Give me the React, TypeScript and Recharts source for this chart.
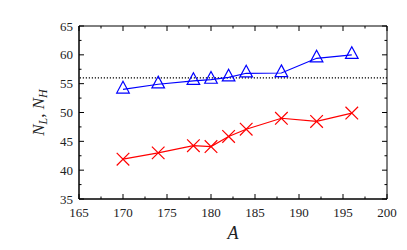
import React from 'react';
import { LineChart, Line, XAxis, YAxis, ReferenceLine, ReferenceArea, Label } from 'recharts';

// Mass number A
const massNumbers = [170, 174, 178, 180, 182, 184, 188, 192, 196];
// N_H (blue triangles)
const nHeavy = [54.0, 54.9, 55.5, 55.7, 56.1, 56.8, 56.85, 59.4, 60.0];
// N_L (red crosses)
const nLight = [41.9, 43.0, 44.25, 44.1, 45.85, 47.1, 49.0, 48.45, 49.9];
// dotted horizontal reference
const threshold = 56;
// axis ranges
const xDomain = [165, 200];
const yDomain = [35, 65];
// tick values (major every 5, minor halfway)
const xTicks = [165, 167.5, 170, 172.5, 175, 177.5, 180, 182.5, 185, 187.5, 190, 192.5, 195, 197.5, 200];
const yTicks = [35, 37.5, 40, 42.5, 45, 47.5, 50, 52.5, 55, 57.5, 60, 62.5, 65];

const data = massNumbers.map((a, i) => ({ A: a, nH: nHeavy[i], nL: nLight[i] }));

const FONT = '"Liberation Serif", "Times New Roman", serif';
const TXT = '#222';
const isMajor = (v: number) => Math.abs(v % 5) < 1e-9;

const BottomTick = (p: any) => {
  const { x, y, payload } = p;
  const major = isMajor(payload.value);
  return (
    <g>
      <line x1={x} y1={y} x2={x} y2={y - (major ? 5 : 2.5)} stroke="#000" strokeWidth={1} />
      {major && (
        <text x={x} y={y + 17.5} textAnchor="middle" fontFamily={FONT} fontSize={13} fill={TXT}>
          {payload.value}
        </text>
      )}
    </g>
  );
};

const TopTick = (p: any) => {
  const { x, y, payload } = p;
  const major = isMajor(payload.value);
  return <line x1={x} y1={y} x2={x} y2={y + (major ? 5 : 2.5)} stroke="#000" strokeWidth={1} />;
};

const LeftTick = (p: any) => {
  const { x, y, payload } = p;
  const major = isMajor(payload.value);
  return (
    <g>
      <line x1={x} y1={y} x2={x + (major ? 5 : 2.5)} y2={y} stroke="#000" strokeWidth={1} />
      {major && (
        <text x={x - 6} y={y + 4.5} textAnchor="end" fontFamily={FONT} fontSize={13} fill={TXT}>
          {payload.value}
        </text>
      )}
    </g>
  );
};

const RightTick = (p: any) => {
  const { x, y, payload } = p;
  const major = isMajor(payload.value);
  return <line x1={x} y1={y} x2={x - (major ? 5 : 2.5)} y2={y} stroke="#000" strokeWidth={1} />;
};

const Triangle = (p: any) => {
  const { cx, cy } = p;
  if (cx == null || cy == null) return <g />;
  const hw = 6.3;
  return (
    <path
      d={`M${cx},${cy - 8.1}L${cx + hw},${cy + 3.6}L${cx - hw},${cy + 3.6}Z`}
      fill="none"
      stroke="#0000ff"
      strokeWidth={1.2}
    />
  );
};

const Cross = (p: any) => {
  const { cx, cy } = p;
  if (cx == null || cy == null) return <g />;
  const s = 6.3;
  return (
    <path
      d={`M${cx - s},${cy - s}L${cx + s},${cy + s}M${cx - s},${cy + s}L${cx + s},${cy - s}`}
      fill="none"
      stroke="#ff0000"
      strokeWidth={1.2}
    />
  );
};

const YTitle = (p: any) => {
  const vb = p.viewBox || { x: 0, y: 0, width: 0, height: 0 };
  const px = vb.x + 44;
  const py = vb.y + vb.height / 2;
  return (
    <text
      x={px}
      y={py}
      transform={`rotate(-90, ${px}, ${py})`}
      textAnchor="middle"
      fontFamily={FONT}
      fontSize={17}
      fill={TXT}
    >
      <tspan fontStyle="italic">N</tspan>
      <tspan fontStyle="italic" fontSize={12} dy={3}>L</tspan>
      <tspan dy={-3}>, </tspan>
      <tspan fontStyle="italic">N</tspan>
      <tspan fontStyle="italic" fontSize={12} dy={3}>H</tspan>
    </text>
  );
};

const XTitle = (p: any) => {
  const vb = p.viewBox || { x: 0, y: 0, width: 0, height: 0 };
  return (
    <text
      x={vb.x + vb.width / 2}
      y={vb.y + 40}
      textAnchor="middle"
      fontFamily={FONT}
      fontStyle="italic"
      fontSize={18}
      fill={TXT}
    >
      A
    </text>
  );
};

export default function App() {
  return (
    <div style={{ position: 'absolute', left: 0, top: 0, width: 407, height: 250, background: '#fff' }}>
      <LineChart width={407} height={250} data={data} margin={{ top: 25, right: 19, bottom: 0, left: 0 }}>
        <XAxis
          xAxisId="b"
          dataKey="A"
          type="number"
          domain={xDomain}
          ticks={xTicks}
          interval={0}
          allowDataOverflow
          orientation="bottom"
          height={51}
          tickSize={0}
          tickMargin={0}
          tickLine={false}
          axisLine={{ stroke: '#000', strokeWidth: 1 }}
          tick={BottomTick}
        >
          <Label content={XTitle} />
        </XAxis>
        <XAxis
          xAxisId="t"
          dataKey="A"
          type="number"
          domain={xDomain}
          ticks={xTicks}
          interval={0}
          allowDataOverflow
          orientation="top"
          height={1}
          tickSize={0}
          tickMargin={0}
          tickLine={false}
          axisLine={false}
          tick={TopTick}
        />
        <YAxis
          yAxisId="l"
          type="number"
          domain={yDomain}
          ticks={yTicks}
          interval={0}
          allowDataOverflow
          orientation="left"
          width={79}
          tickSize={0}
          tickMargin={0}
          tickLine={false}
          axisLine={{ stroke: '#000', strokeWidth: 1 }}
          tick={LeftTick}
        >
          <Label content={YTitle} />
        </YAxis>
        <YAxis
          yAxisId="r"
          type="number"
          domain={yDomain}
          ticks={yTicks}
          interval={0}
          allowDataOverflow
          orientation="right"
          width={1}
          tickSize={0}
          tickMargin={0}
          tickLine={false}
          axisLine={false}
          tick={RightTick}
        />
        <ReferenceArea
          xAxisId="t"
          yAxisId="r"
          x1={xDomain[0]}
          x2={xDomain[1]}
          y1={yDomain[0]}
          y2={yDomain[1]}
          fill="none"
          fillOpacity={0}
          stroke="#000"
          strokeWidth={1}
          ifOverflow="extendDomain"
        />
        <ReferenceLine
          xAxisId="t"
          yAxisId="r"
          y={threshold}
          stroke="#000"
          strokeWidth={1.2}
          strokeDasharray="1.2 1.8"
        />
        <Line
          xAxisId="b"
          yAxisId="l"
          type="linear"
          dataKey="nH"
          stroke="#0000ff"
          strokeWidth={1.2}
          dot={Triangle}
          activeDot={false}
          isAnimationActive={false}
        />
        <Line
          xAxisId="b"
          yAxisId="l"
          type="linear"
          dataKey="nL"
          stroke="#ff0000"
          strokeWidth={1.2}
          dot={Cross}
          activeDot={false}
          isAnimationActive={false}
        />
      </LineChart>
    </div>
  );
}
